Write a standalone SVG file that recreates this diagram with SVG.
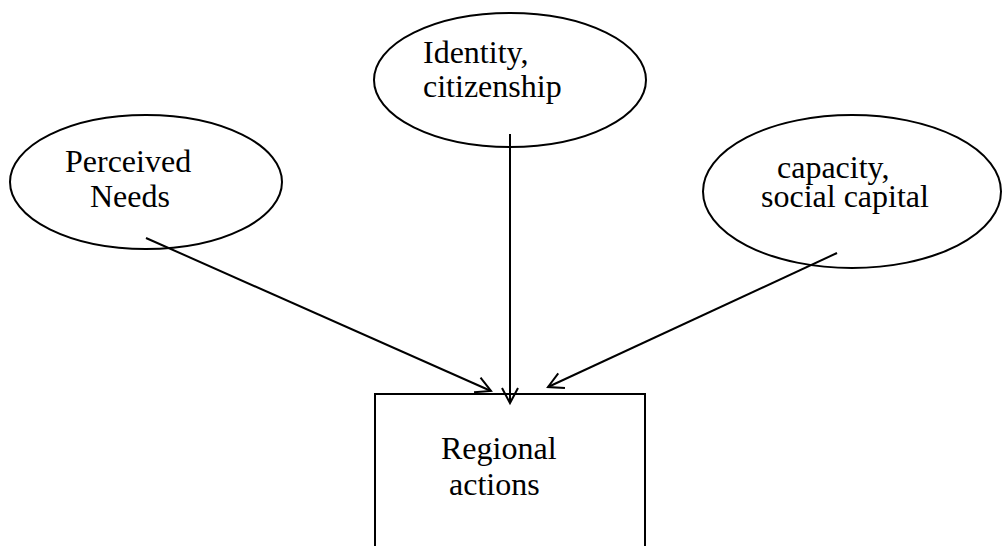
<svg xmlns="http://www.w3.org/2000/svg" width="1002" height="546" viewBox="0 0 1002 546">
<style>
.shape{fill:none;stroke:#000;stroke-width:2}
.lbl{font-family:"Liberation Serif","Times New Roman",serif;font-size:32px;fill:#000}
.conn{fill:none;stroke:#000;stroke-width:2}
</style>
<defs>
<marker id="arr" markerUnits="userSpaceOnUse" markerWidth="30" markerHeight="30" refX="0" refY="0" viewBox="-20 -15 30 30" orient="auto" overflow="visible">
<path d="M-15,-8 L0,0 L-15,8" fill="none" stroke="#000" stroke-width="2"/>
</marker>
</defs>
<rect width="1002" height="546" fill="#fff"/>
<g id="node-identity">
<ellipse class="shape" cx="510" cy="80" rx="136" ry="67"/>
<text class="lbl" x="423" y="63">Identity,</text>
<text class="lbl" x="423" y="97">citizenship</text>
</g>
<g id="node-needs">
<ellipse class="shape" cx="146" cy="182" rx="136" ry="67"/>
<text class="lbl" x="65" y="172">Perceived</text>
<text class="lbl" x="90" y="207">Needs</text>
</g>
<g id="node-capacity">
<ellipse class="shape" cx="852" cy="191.5" rx="149" ry="76.5"/>
<text class="lbl" x="777" y="178">capacity,</text>
<text class="lbl" x="761" y="207">social capital</text>
</g>
<g id="node-regional">
<path class="shape" d="M375,550 V394 H645 V550"/>
<text class="lbl" x="441" y="459">Regional</text>
<text class="lbl" x="449" y="495">actions</text>
</g>
<g id="connectors">
<line class="conn" x1="510" y1="134" x2="510" y2="403" marker-end="url(#arr)"/>
<line class="conn" x1="146" y1="238" x2="491" y2="391" marker-end="url(#arr)"/>
<line class="conn" x1="837" y1="253" x2="548" y2="387" marker-end="url(#arr)"/>
</g>
</svg>
